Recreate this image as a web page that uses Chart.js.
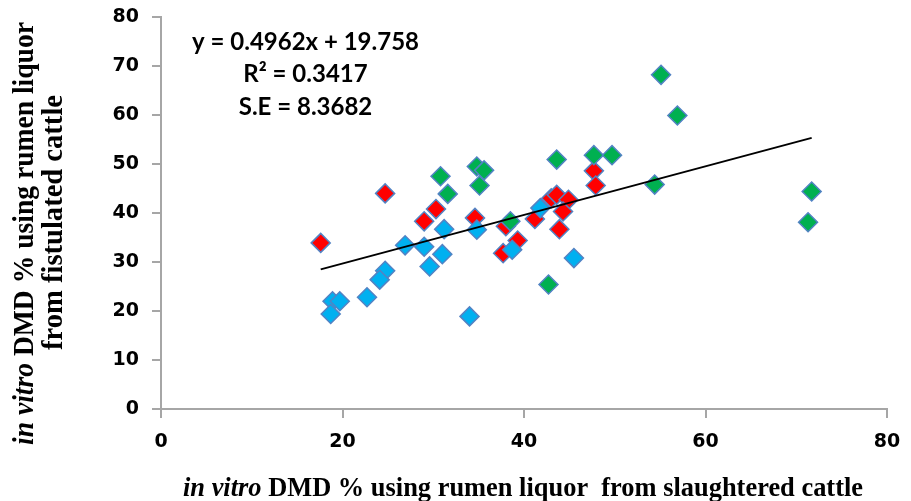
<!DOCTYPE html>
<html>
<head>
<meta charset="utf-8">
<script src="https://cdn.jsdelivr.net/npm/chart.js@4.4.1/dist/chart.umd.min.js"></script>
<style>
  html, body { margin: 0; padding: 0; background: #ffffff; }
  #wrap { width: 911px; height: 501px; }
</style>
</head>
<body>
<div id="wrap"><canvas id="c" width="911" height="501"></canvas></div>
<script>
// ---- data ----
const blueX  = [26.9, 29.0, 31.0, 29.6, 24.7, 24.1, 22.7, 18.9, 19.7, 18.7, 34.0, 31.2, 34.8, 38.7, 41.8, 45.5];
const blueY  = [33.4, 33.1, 31.6, 29.1, 28.2, 26.4, 22.8, 22.0, 22.0, 19.4, 18.9, 36.7, 36.6, 32.5, 41.0, 30.8];
const redX   = [17.6, 24.7, 30.3, 29.0, 34.6, 38.0, 37.7, 39.3, 41.2, 43.0, 43.6, 44.9, 44.3, 43.9, 47.7, 47.9];
const redY   = [33.9, 44.0, 40.8, 38.3, 39.0, 37.3, 31.8, 34.4, 38.8, 43.0, 43.7, 42.7, 40.3, 36.7, 48.6, 45.6];
const greenX = [30.8, 31.6, 34.8, 35.6, 35.1, 38.5, 43.6, 47.7, 49.7, 55.1, 56.9, 54.4, 71.7, 71.3, 42.7];
const greenY = [47.5, 43.9, 49.5, 48.7, 45.6, 38.3, 50.9, 51.8, 51.8, 68.2, 59.9, 45.8, 44.4, 38.1, 25.4];

const trendSlope = 0.4962;
const trendIntercept = 19.758;

const xTickValues = [0, 20, 40, 60, 80];
const yTickValues = [0, 10, 20, 30, 40, 50, 60, 70, 80];

const equationLines = ['y = 0.4962x + 19.758', 'R\u00B2 = 0.3417', 'S.E = 8.3682'];
const xTitleRuns = [{ text: 'in vitro', italic: true }, { text: ' DMD % using rumen liquor  from slaughtered cattle' }];
const yTitleLine1 = [{ text: 'in vitro', italic: true }, { text: ' DMD % using rumen liquor' }];
const yTitleLine2 = [{ text: 'from fistulated cattle' }];

// ---- build ----
const toPts = (xs, ys) => xs.map((x, i) => ({ x: x, y: ys[i] }));
const allX = blueX.concat(redX, greenX);
const xMin = Math.min.apply(null, allX), xMax = Math.max.apply(null, allX);
const trendPts = [xMin, xMax].map(x => ({ x: x, y: trendSlope * x + trendIntercept }));

const markerBorder = '#5283c4';
function markerSet(label, pts, fill) {
  return {
    label: label, data: pts, pointStyle: 'rectRot', pointRadius: 9.5, pointHoverRadius: 9.5,
    backgroundColor: fill, borderColor: markerBorder, borderWidth: 1.5, showLine: false
  };
}

function drawRuns(ctx, runs, size, x, y, width, angle) {
  ctx.save();
  ctx.translate(x, y);
  ctx.rotate(angle);
  ctx.textAlign = 'left';
  ctx.textBaseline = 'alphabetic';
  ctx.fillStyle = '#000';
  const fontOf = r => (r.italic ? 'italic ' : '') + 'bold ' + size + 'px "Liberation Serif", "Times New Roman", serif';
  const widths = runs.map(r => { ctx.font = fontOf(r); return ctx.measureText(r.text).width; });
  const total = widths.reduce((a, b) => a + b, 0);
  ctx.scale(width / total, 1);
  let cx = 0;
  runs.forEach((r, i) => { ctx.font = fontOf(r); ctx.fillText(r.text, cx, 0); cx += widths[i]; });
  ctx.restore();
}

const textPlugin = {
  id: 'texts',
  afterDraw(chart) {
    const ctx = chart.ctx;
    ctx.save();
    ctx.fillStyle = '#000';
    ctx.font = 'bold 24px Lato, "Open Sans", sans-serif';
    ctx.textAlign = 'center';
    ctx.textBaseline = 'alphabetic';
    const baselines = [50, 81.5, 115];
    equationLines.forEach((t, i) => ctx.fillText(t, 305.5, baselines[i]));
    ctx.restore();
    drawRuns(ctx, xTitleRuns, 27, 183, 496, 680, 0);
    drawRuns(ctx, yTitleLine1, 29, 33, 445, 423, -Math.PI / 2);
    drawRuns(ctx, yTitleLine2, 29, 62, 350, 255, -Math.PI / 2);
  }
};

const axisGrey = '#a6a6a6';
const tickFont = { family: '"DejaVu Sans", sans-serif', size: 19, weight: 'bold' };

new Chart(document.getElementById('c'), {
  type: 'scatter',
  data: {
    datasets: [
      { type: 'line', label: 'trend', data: trendPts, borderColor: '#000000', borderWidth: 2,
        pointRadius: 0, fill: false, showLine: true, tension: 0 },
      markerSet('green', toPts(greenX, greenY), '#00b050'),
      markerSet('blue', toPts(blueX, blueY), '#00b0f0'),
      markerSet('red', toPts(redX, redY), '#ff0000')
    ]
  },
  options: {
    responsive: false,
    devicePixelRatio: 1,
    animation: false,
    layout: { padding: { top: 17, right: 24, left: 0, bottom: 0 } },
    plugins: { legend: { display: false }, tooltip: { enabled: false } },
    scales: {
      x: {
        type: 'linear', min: xTickValues[0], max: xTickValues[xTickValues.length - 1],
        afterBuildTicks: s => { s.ticks = xTickValues.map(v => ({ value: v })); },
        afterFit: s => { s.height = 92; s.paddingLeft = 0; s.paddingRight = 0; },
        ticks: { font: tickFont, color: '#000', padding: 13, maxRotation: 0 },
        grid: { display: true, drawOnChartArea: false, drawTicks: true, tickLength: 9, color: axisGrey, lineWidth: 2 },
        border: { display: true, color: axisGrey, width: 2 }
      },
      y: {
        type: 'linear', min: yTickValues[0], max: yTickValues[yTickValues.length - 1],
        afterBuildTicks: s => { s.ticks = yTickValues.map(v => ({ value: v })); },
        afterFit: s => { s.width = 161; s.paddingTop = 0; s.paddingBottom = 0; },
        ticks: { font: tickFont, color: '#000', padding: 13 },
        grid: { display: true, drawOnChartArea: false, drawTicks: true, tickLength: 9, color: axisGrey, lineWidth: 2 },
        border: { display: true, color: axisGrey, width: 2 }
      }
    }
  },
  plugins: [textPlugin]
});
</script>
</body>
</html>
